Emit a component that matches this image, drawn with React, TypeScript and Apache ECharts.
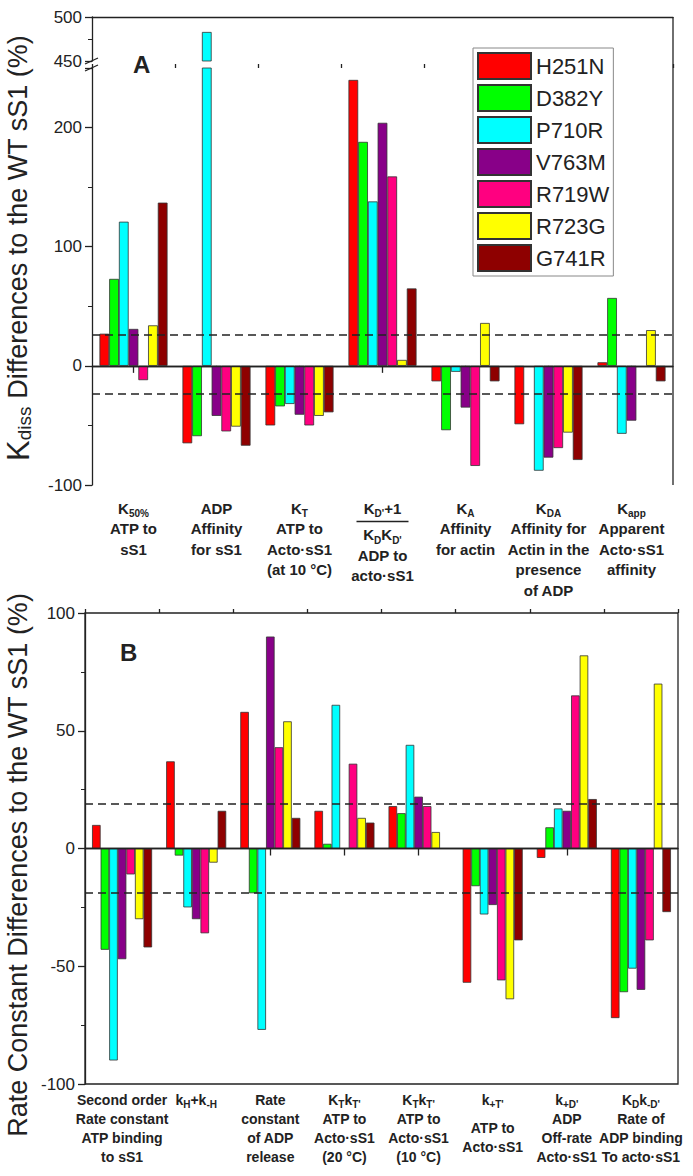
import React, { useEffect, useRef } from 'react';
import * as echarts from 'echarts';

const FONT = "'Liberation Sans', Arial, Helvetica, sans-serif";
const INK = '#222';

const mutants = ['H251N', 'D382Y', 'P710R', 'V763M', 'R719W', 'R723G', 'G741R'];
const mutantColors = ['#FF0000', '#00FF00', '#00FFFF', '#880088', '#FF0080', '#FFFF00', '#8E0000'];

// Panel A categories (K_diss)
const categoriesA = [
  'K{sub|50%}\nATP to\nsS1',
  'ADP\nAffinity\nfor sS1',
  'K{sub|T}\nATP to\nActo·sS1\n(at 10 °C)',
  "K{sub|D'}+1\n{frac| }\nK{sub|D}K{sub|D'}\nADP to\nacto·sS1",
  'K{sub|A}\nAffinity\nfor actin',
  'K{sub|DA}\nAffinity for\nActin in the\npresence\nof ADP',
  'K{sub|app}\nApparent\nActo·sS1\naffinity',
];

// Panel A values (%)
const h251nA = [27, -65, -50, 240, -13, -49, 3];
const d382yA = [73, -59, -34, 188, -54, null, 57];
const p710rA = [121, 483, -32, 138, -5, -88, -57];
const v763mA = [31, -42, -41, 204, -35, -77, -46];
const r719wA = [-12, -55, -50, 159, -84, -69, null];
const r723gA = [34, -51, -42, 5, 36, -56, 30];
const g741rA = [137, -67, -39, 65, -13, -79, -13];
const valuesA = [h251nA, d382yA, p710rA, v763mA, r719wA, r723gA, g741rA];
const thresholdsA = [26, -23];
const breakA = [250, 450];

// Panel B categories (rate constants)
const categoriesB = [
  'Second order\nRate constant\nATP binding\nto sS1',
  'k{sub|H}+k{sub|-H}',
  'Rate\nconstant\nof ADP\nrelease',
  "K{sub|T}k{sub|T'}\nATP to\nActo·sS1\n(20 °C)",
  "K{sub|T}k{sub|T'}\nATP to\nActo·sS1\n(10 °C)",
  "k{sub|+T'}\n{sp| }\nATP to\nActo·sS1",
  "k{sub|+D'}\nADP\nOff-rate\nActo·sS1",
  "K{sub|D}k{sub|-D'}\nRate of\nADP binding\nTo acto·sS1",
];

// Panel B values (%)
const h251nB = [10, 37, 58, 16, 18, -57, -4, -72];
const d382yB = [-43, -3, -19, 2, 15, -16, 9, -61];
const p710rB = [-90, -25, -77, 61, 44, -28, 17, -51];
const v763mB = [-47, -30, 90, null, 22, -24, 16, -60];
const r719wB = [-11, -36, 43, 36, 18, -56, 65, -39];
const r723gB = [-30, -6, 54, 13, 7, -64, 82, 70];
const g741rB = [-42, 16, 13, 11, null, -39, 21, -27];
const valuesB = [h251nB, d382yB, p710rB, v763mB, r719wB, r723gB, g741rB];
const thresholdsB = [19, -19];

const lineStyle = { color: INK, width: 1.3 };

function richLabel(fontSize: number, lineHeight: number) {
  return {
    fontSize,
    fontWeight: 'bold' as const,
    fontFamily: FONT,
    color: INK,
    lineHeight,
    rich: {
      sub: { fontSize: Math.round(fontSize * 0.68), fontWeight: 'bold', fontFamily: FONT, color: INK, verticalAlign: 'bottom', lineHeight: Math.round(lineHeight * 0.6) },
      frac: { width: 52, height: 1.6, backgroundColor: INK, lineHeight: 6 },
      sp: { fontSize: 6, lineHeight: 9 },
    },
  };
}

function valueAxis(gridIndex: number, min: number, max: number, interval: number, extra: any = {}) {
  return {
    type: 'value',
    gridIndex,
    min,
    max,
    interval,
    axisLine: { show: true, lineStyle },
    axisTick: { show: true, length: 7, lineStyle },
    minorTick: { show: true, splitNumber: 2, length: 4, lineStyle: { color: INK, width: 1 } },
    splitLine: { show: false },
    axisLabel: { fontSize: 17, color: INK, fontFamily: FONT, margin: 10 },
    ...extra,
  };
}

function markLines(thresholds: number[]) {
  return {
    silent: true,
    symbol: 'none',
    label: { show: false },
    lineStyle: { color: INK, width: 1.5, type: [8, 5] },
    data: [
      { yAxis: 0, lineStyle: { type: 'solid', color: INK, width: 1.4 } },
      ...thresholds.map((t) => ({ yAxis: t })),
    ],
  };
}

export default function App() {
  const ref = useRef<HTMLDivElement>(null);

  useEffect(() => {
    if (!ref.current) return;
    const chart = echarts.init(ref.current, undefined, { renderer: 'svg' });

    const series: any[] = [];
    mutants.forEach((name, i) => {
      const itemStyle = { color: mutantColors[i], borderColor: '#333', borderWidth: 0.8 };
      series.push({
        type: 'bar', name, xAxisIndex: 1, yAxisIndex: 1, data: valuesA[i], itemStyle,
        barGap: '0%', barCategoryGap: '18%',
        markLine: i === 0 ? markLines(thresholdsA) : undefined,
      });
      series.push({
        type: 'bar', name, xAxisIndex: 0, yAxisIndex: 0,
        data: valuesA[i].map((v) => (v != null && v > breakA[0] ? v : null)), itemStyle,
        barGap: '0%', barCategoryGap: '18%',
      });
      series.push({
        type: 'bar', name, xAxisIndex: 3, yAxisIndex: 2, data: valuesB[i], itemStyle,
        barGap: '0%', barCategoryGap: '19%',
        markLine: i === 0 ? markLines(thresholdsB) : undefined,
      });
    });

    const option: any = {
      animation: false,
      backgroundColor: '#fff',
      textStyle: { fontFamily: FONT },
      legend: {
        data: mutants,
        orient: 'vertical',
        left: 473,
        top: 48,
        itemWidth: 53,
        itemHeight: 26,
        itemGap: 4,
        padding: [4, 4, 4, 4],
        borderColor: '#888',
        borderWidth: 1,
        backgroundColor: '#fff',
        icon: 'rect',
        selectedMode: false,
        textStyle: { fontSize: 22, color: INK, fontFamily: FONT },
      },
      grid: [
        { left: 92, top: 17, width: 581, height: 44 },
        { left: 92, top: 68, width: 581, height: 417 },
        { left: 85, top: 613, width: 593, height: 471, show: true, borderColor: INK, borderWidth: 1.3, backgroundColor: 'transparent' },
      ],
      xAxis: [
        { type: 'category', gridIndex: 0, data: categoriesA, position: 'top', axisLine: { show: true, lineStyle }, axisTick: { show: false }, axisLabel: { show: false } },
        {
          type: 'category', gridIndex: 1, data: categoriesA,
          axisLine: { show: true, lineStyle },
          axisTick: { show: true, alignWithLabel: true, length: 7, interval: 0, lineStyle },
          axisLabel: { interval: 0, margin: 13, ...richLabel(15, 20.5) },
        },
        { type: 'category', gridIndex: 1, data: categoriesA, axisLine: { show: false }, axisTick: { show: true, length: 4, interval: 0, lineStyle }, axisLabel: { show: false } },
        {
          type: 'category', gridIndex: 2, data: categoriesB,
          axisLine: { show: true, lineStyle },
          axisTick: { show: true, alignWithLabel: true, length: 7, interval: 0, lineStyle },
          axisLabel: { interval: 0, margin: 6, ...richLabel(14, 19) },
        },
        { type: 'category', gridIndex: 2, data: categoriesB, axisLine: { show: false }, axisTick: { show: true, length: 4, interval: 0, lineStyle }, axisLabel: { show: false } },
      ],
      yAxis: [
        valueAxis(0, breakA[1], 500, 50),
        valueAxis(1, -100, breakA[0], 100, { axisLabel: { fontSize: 17, color: INK, fontFamily: FONT, margin: 10, showMaxLabel: false } }),
        valueAxis(2, -100, 100, 50),
      ],
      series,
      graphic: [
        { type: 'line', shape: { x1: 673, y1: 17, x2: 673, y2: 485 }, style: { stroke: INK, lineWidth: 1.3 }, z: 100 },
        { type: 'line', shape: { x1: 85, y1: 64, x2: 98, y2: 58 }, style: { stroke: INK, lineWidth: 1.3 }, z: 100 },
        { type: 'line', shape: { x1: 85, y1: 71, x2: 98, y2: 65 }, style: { stroke: INK, lineWidth: 1.3 }, z: 100 },
        {
          type: 'text', x: 133, y: 64, z: 100,
          style: { text: 'A', fontSize: 24, fontWeight: 'bold', fontFamily: FONT, fill: INK, align: 'left', verticalAlign: 'middle', textAlign: 'left', textVerticalAlign: 'middle' },
        },
        {
          type: 'text', x: 120, y: 652, z: 100,
          style: { text: 'B', fontSize: 24, fontWeight: 'bold', fontFamily: FONT, fill: INK, align: 'left', verticalAlign: 'middle', textAlign: 'left', textVerticalAlign: 'middle' },
        },
        {
          type: 'text', x: 18, y: 248, rotation: Math.PI / 2, z: 100,
          style: {
            text: '{k|K}{sub|diss} Differences to the WT sS1 (%)',
            fontSize: 27, fontFamily: FONT, fill: INK,
            align: 'center', verticalAlign: 'middle', textAlign: 'center', textVerticalAlign: 'middle',
            rich: {
              k: { fontSize: 31, fontFamily: FONT, fill: INK, lineHeight: 32 },
              sub: { fontSize: 19, fontFamily: FONT, fill: INK, verticalAlign: 'bottom', lineHeight: 20 },
            },
          },
        },
        {
          type: 'text', x: 18, y: 865, rotation: Math.PI / 2, z: 100,
          style: {
            text: 'Rate Constant Differences to the WT sS1 (%)',
            fontSize: 27, fontFamily: FONT, fill: INK,
            align: 'center', verticalAlign: 'middle', textAlign: 'center', textVerticalAlign: 'middle',
          },
        },
      ],
    };

    chart.setOption(option);
    return () => chart.dispose();
  }, []);

  return <div ref={ref} style={{ position: 'fixed', left: 0, top: 0, width: 693, height: 1176, background: '#fff' }} />;
}
